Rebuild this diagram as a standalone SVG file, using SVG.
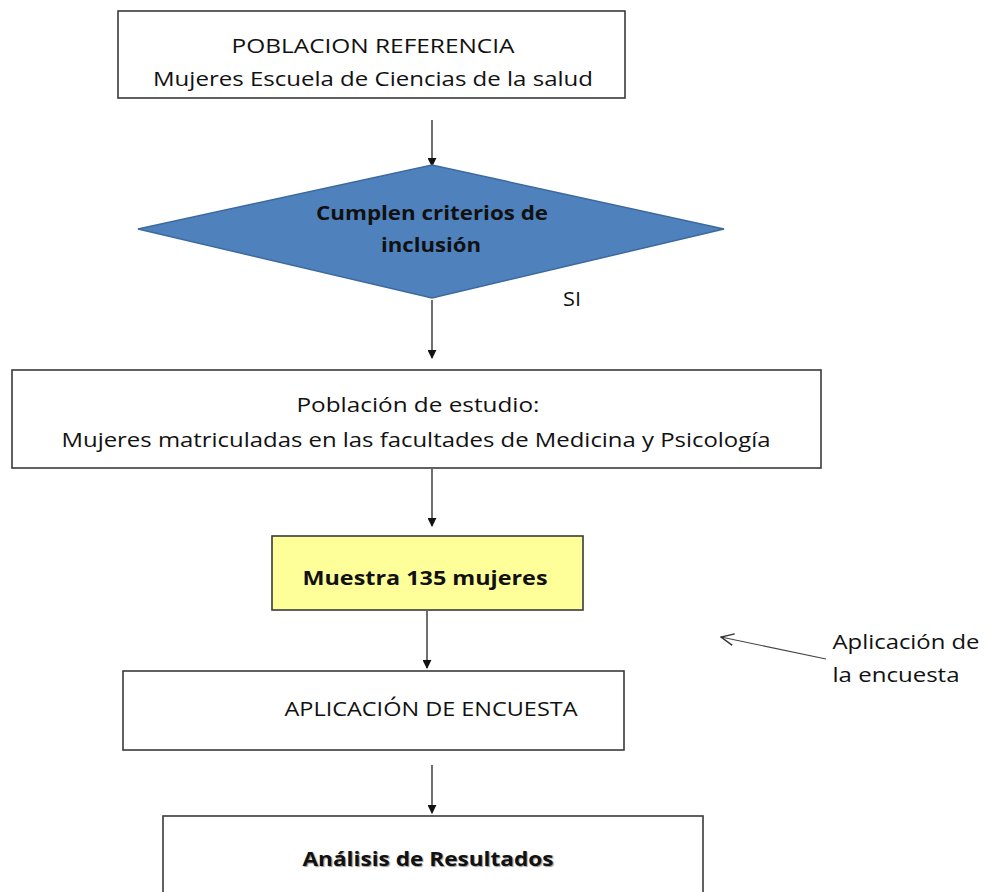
<svg xmlns="http://www.w3.org/2000/svg" width="989" height="892" viewBox="0 0 989 892">
<style>
.box{fill:#fff;stroke:#3a3a3a;stroke-width:1.6}
.t{font-family:"Open Sans","Liberation Sans",sans-serif;font-size:20px;fill:#111;text-anchor:middle}
.b{font-weight:bold}
.c{stroke:#222;stroke-width:1.3;fill:none}
</style>
<defs>
<marker id="ah" viewBox="0 0 10 10" refX="9" refY="5" markerWidth="9" markerHeight="9" markerUnits="userSpaceOnUse" orient="auto">
<path d="M0,0 L10,5 L0,10 z" fill="#111"/>
</marker>
<marker id="oa" viewBox="0 0 12 12" refX="1" refY="6" markerWidth="14" markerHeight="14" markerUnits="userSpaceOnUse" orient="auto">
<path d="M12,1 L1,6 L12,11" fill="none" stroke="#333" stroke-width="1.2"/>
</marker>
</defs>
<rect width="989" height="892" fill="#fff"/>
<g id="connectors">
<line class="c" x1="432" y1="120" x2="432" y2="166" marker-end="url(#ah)"/>
<line class="c" x1="432" y1="300" x2="432" y2="358" marker-end="url(#ah)"/>
<line class="c" x1="432" y1="469" x2="432" y2="526" marker-end="url(#ah)"/>
<line class="c" x1="427" y1="611" x2="427" y2="668" marker-end="url(#ah)"/>
<line class="c" x1="432" y1="765" x2="432" y2="813" marker-end="url(#ah)"/>
<line x1="721" y1="637" x2="826" y2="659" stroke="#444" stroke-width="1.2" marker-start="url(#oa)"/>
</g>
<g id="n1">
<rect class="box" x="118" y="11" width="507" height="87"/>
<text class="t" x="373" y="53" textLength="283" lengthAdjust="spacingAndGlyphs">POBLACION  REFERENCIA</text>
<text class="t" x="373" y="86" textLength="440" lengthAdjust="spacingAndGlyphs">Mujeres  Escuela de Ciencias de la salud</text>
</g>
<g id="n2">
<polygon points="138,229 432,165 724,229 432,298" fill="#4f81bd" stroke="#3c6a9e" stroke-width="1.5"/>
<text class="t b" x="432" y="220" textLength="232" lengthAdjust="spacingAndGlyphs">Cumplen criterios de</text>
<text class="t b" x="431" y="252" textLength="100" lengthAdjust="spacingAndGlyphs">inclusión</text>
</g>
<g id="si">
<text class="t" x="572" y="306" textLength="18" lengthAdjust="spacingAndGlyphs">SI</text>
</g>
<g id="n3">
<rect class="box" x="12" y="370" width="809" height="98"/>
<text class="t" x="418" y="412" textLength="243" lengthAdjust="spacingAndGlyphs">Población de estudio:</text>
<text class="t" x="416" y="447" textLength="709" lengthAdjust="spacingAndGlyphs">Mujeres matriculadas en las facultades de Medicina y Psicología</text>
</g>
<g id="n4">
<rect x="272" y="536" width="311" height="74" fill="#ffff99" stroke="#3a3a3a" stroke-width="1.6"/>
<text class="t b" x="425" y="585" textLength="245" lengthAdjust="spacingAndGlyphs">Muestra  135 mujeres</text>
</g>
<g id="n5">
<rect class="box" x="123" y="671" width="501" height="79"/>
<text class="t" x="431" y="716" textLength="293" lengthAdjust="spacingAndGlyphs">APLICACIÓN DE ENCUESTA</text>
</g>
<g id="note">
<text class="t" x="906" y="649" textLength="147" lengthAdjust="spacingAndGlyphs">Aplicación de</text>
<text class="t" x="896" y="682" textLength="127" lengthAdjust="spacingAndGlyphs">la encuesta</text>
</g>
<g id="n6">
<rect class="box" x="163" y="816" width="540" height="90"/>
<text class="t b" x="428" y="866" textLength="251" lengthAdjust="spacingAndGlyphs" fill="#222" style="text-shadow:1px 1px 1px #999">Análisis de Resultados</text>
</g>
</svg>
